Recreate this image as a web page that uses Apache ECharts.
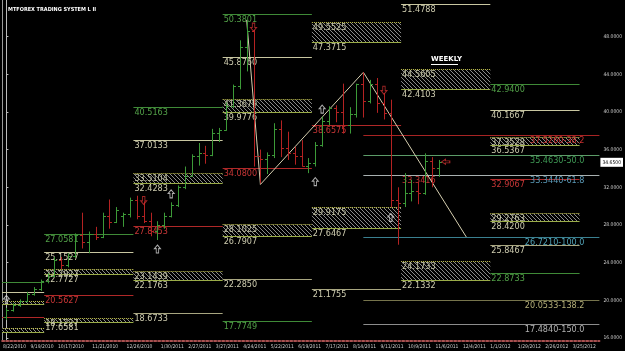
<!DOCTYPE html>
<html><head><meta charset="utf-8">
<script src="https://cdn.jsdelivr.net/npm/echarts@6/dist/echarts.min.js"></script>
<style>html,body{margin:0;padding:0;background:#000}#c{width:625px;height:351px}</style>
</head><body><div id="c"></div><script>
// ---------- DATA ----------
const firstWeek = '2010-08-22';
const dateLabels = ['8/22/2010','9/19/2010','10/17/2010','11/21/2010','12/26/2010','1/30/2011','2/27/2011','3/27/2011','4/24/2011','5/22/2011','6/19/2011','7/17/2011','8/14/2011','9/11/2011','10/9/2011','11/6/2011','12/4/2011','1/1/2012','1/29/2012','2/26/2012','3/25/2012'];
const priceTicks = [16,20,24,28,32,36,40,44,48];
const currentPrice = 34.65;

// weekly OHLC bars (week 0 = 8/22/2010)
const barOpen  = [18.2,19.0,19.5,19.9,20.7,21.2,22.0,22.6,24.3,23.8,24.7,26.9,26.2,27.0,26.7,28.9,28.3,29.0,29.2,30.7,28.9,28.4,27.4,28.0,29.0,30.1,32.0,33.2,35.3,35.6,35.4,37.8,38.1,40.6,42.8,46.9,48.6,35.3,35.0,35.4,38.2,36.2,35.6,35.3,34.3,34.6,36.5,39.0,40.4,40.0,38.6,39.8,43.0,41.2,43.0,40.9,39.9,30.6,30.3,31.4,31.6,31.4,34.8,34.0];
const barHigh  = [19.2,19.7,20.1,20.9,21.4,22.2,22.9,24.6,24.6,25.0,27.1,29.3,27.3,27.8,29.3,30.7,29.9,29.3,30.9,31.1,30.5,29.3,28.4,29.3,30.4,32.2,34.2,35.5,36.7,36.4,38.2,38.3,41.0,42.9,47.6,49.7,48.7,36.0,35.7,38.8,39.1,37.9,36.3,37.0,35.1,36.8,39.5,40.6,40.7,43.0,40.5,43.0,44.2,43.4,43.6,42.0,41.3,32.0,33.5,32.8,32.6,35.6,35.2,34.9];
const barLow   = [17.9,18.8,19.3,19.8,20.5,21.0,21.8,22.5,23.3,23.5,24.5,25.5,25.0,26.4,26.6,27.6,28.2,27.8,28.8,28.6,28.2,26.8,26.4,27.6,28.8,29.9,31.8,33.2,34.3,34.5,35.3,36.8,38.0,40.4,42.4,44.3,34.2,32.4,33.4,35.1,35.2,34.9,34.4,34.2,33.5,34.2,36.3,38.6,38.9,37.7,37.7,39.4,39.4,40.9,39.9,39.2,29.9,25.9,29.9,30.5,30.2,31.2,32.0,33.1];
const barClose = [19.0,19.5,19.9,20.7,21.2,22.0,22.6,24.3,23.8,24.7,26.9,26.2,27.0,26.7,28.9,28.3,29.6,29.2,30.7,28.9,28.4,27.4,28.0,29.0,30.1,32.0,33.2,35.3,35.6,35.4,37.8,38.1,40.6,42.8,46.9,48.6,35.3,35.0,35.4,38.2,36.2,35.6,35.3,34.3,34.6,36.5,39.0,40.4,40.0,38.6,39.8,43.0,41.2,43.0,40.9,39.9,30.6,30.3,31.4,31.6,31.4,34.8,34.0,34.65];

// quarterly pivot levels (columns = quarters)
const quarterStart = [-7, 6, 19, 32, 45, 58, 71];
const quarterEnd   = [6, 19, 32, 45, 58, 71, 84];
const levelR3   = [21.91, 27.0581, 40.5163, 50.3801, null, null, 42.9400];
const levelR2   = [20.92, 25.1527, 37.0133, 45.8760, null, 51.4788, 40.1667];
const zoneR1Top = [19.92, 23.2927, 33.5104, 41.3679, 49.5525, 44.5605, 37.3528];
const zoneR1Bot = [19.58, 22.7727, 32.4283, 39.9776, 47.3715, 42.4103, 36.5367];
const pivotP    = [18.26, 20.5627, 27.8453, 34.0800, 38.6575, 33.3416, 32.9067];
const zoneS1Top = [17.03, 18.1227, 23.1439, 28.1025, 29.9175, 24.1733, 29.2763];
const zoneS1Bot = [16.60, 17.6581, 22.1763, 26.7907, 27.6467, 22.1332, 28.4200];
const levelS2   = [null, null, 18.6733, 22.2850, 21.1755, null, 25.8467];
const levelS3   = [null, null, null, 17.7749, null, null, 22.8733];

// fibonacci retracement
const fibStartWeek = 52;
const fibRatios = ['38.2','50.0','61.8','100.0','138.2','150.0'];
const fibValues = [37.5260, 35.4630, 33.3440, 26.7210, 20.0533, 17.4840];

// trend / zigzag line [week, price]
const trendPoints = [[35, 49.75], [37, 32.3], [52, 44.205], [67, 26.721]];

// signal arrows [week, price]
const upSignals   = [[0, 20.1], [22, 25.45], [24, 31.3], [45, 32.6], [46, 40.3], [56, 28.8]];
const downSignals = [[20, 30.6], [36, 49.0], [55, 42.3]];
const priceMarker = [[64, 34.7]];

// ---------- RENDER ----------
const weekMs = 7 * 24 * 3600 * 1000;
const t0 = new Date(firstWeek + 'T00:00:00Z').getTime();
function weekOf(lbl){ const p = lbl.split('/'); return Math.round((Date.UTC(+p[2], +p[0]-1, +p[1]) - t0) / weekMs); }
const labelWeeks = dateLabels.map(weekOf);
const labelMap = {}; labelWeeks.forEach((w,i)=>labelMap[w]=dateLabels[i]);

const fmt = v => v.toFixed(4);
const narrow = '"Liberation Sans Narrow", "DejaVu Sans Condensed", sans-serif';
const labelFont = '9px ' + narrow;
const kindStyle = {
  R3:{line:'#3f8a37', text:'#52a048'},
  R2:{line:'#c8c6a0', text:'#cfcdb0'},
  P: {line:'#b02828', text:'#c83636'},
  S2:{line:'#a8a680', text:'#cfcdb0'},
  S3:{line:'#3f8a37', text:'#52a048'}
};
const lineItems = [];
function addLevels(arr, kind){ arr.forEach((v,i)=>{ if(v!=null) lineItems.push({s:quarterStart[i], e:quarterEnd[i], v:v, kind:kind}); }); }
addLevels(levelR3,'R3'); addLevels(levelR2,'R2'); addLevels(pivotP,'P'); addLevels(levelS2,'S2'); addLevels(levelS3,'S3');
const zoneItems = [];
zoneR1Top.forEach((v,i)=>zoneItems.push({s:quarterStart[i], e:quarterEnd[i], top:v, bot:zoneR1Bot[i]}));
zoneS1Top.forEach((v,i)=>zoneItems.push({s:quarterStart[i], e:quarterEnd[i], top:v, bot:zoneS1Bot[i]}));

const hatch = document.createElement('canvas'); hatch.width = 4; hatch.height = 4;
(function(){ const c = hatch.getContext('2d'); c.fillStyle='#000'; c.fillRect(0,0,4,4); c.fillStyle='#8a8a8a'; for(let k=0;k<4;k++) c.fillRect(k,k,1,1); })();

const fibStyle = [
  {line:'#a82424', text:'#c83030'},
  {line:'#5c9c68', text:'#3f9a55'},
  {line:'#a8b0b0', text:'#5a9ab8'},
  {line:'#3a8090', text:'#50a0b4'},
  {line:'#76744c', text:'#b4ae78'},
  {line:'#8c8c8c', text:'#b0b0b0'}
];

const chart = echarts.init(document.getElementById('c'), null, {renderer:'canvas'});
const option = {
  backgroundColor:'#000',
  animation:false,
  title:{text:'MTFOREX TRADING SYSTEM L II', left:3, top:2, textStyle:{color:'#fff', fontSize:5.5, fontWeight:'bold', fontFamily:narrow}},
  graphic:[
    {type:'text', left:431, top:56, style:{text:'WEEKLY', fill:'#fff', font:'bold 7px "DejaVu Sans"'}},
    {type:'line', shape:{x1:431, y1:64.5, x2:458, y2:64.5}, style:{stroke:'#fff', lineWidth:1}}
  ],
  grid:{left:0, right:22, top:0, bottom:10},
  xAxis:{type:'value', min:-0.62, max:86.39,
    axisLine:{show:true, lineStyle:{color:'#a85050', width:2, type:'dotted'}},
    axisTick:{show:false},
    splitLine:{show:false},
    axisLabel:{customValues:labelWeeks.map(w=>w-0.5), formatter:v=>labelMap[Math.round(v+0.5)]||'', align:'left', color:'#ccc', fontSize:5, margin:3, hideOverlap:false, showMinLabel:true, fontFamily:narrow}
  },
  yAxis:[
    {type:'value', position:'right', min:15.68, max:51.88,
      axisLine:{show:true, lineStyle:{color:'#bbb', width:1}},
      axisTick:{show:true, customValues:priceTicks, length:2, lineStyle:{color:'#bbb'}},
      splitLine:{show:false},
      axisLabel:{customValues:priceTicks, formatter:fmt, color:'#ccc', fontSize:5, margin:4, fontFamily:narrow}
    },
    {type:'value', position:'left', min:15.68, max:51.88,
      axisLine:{show:true, lineStyle:{color:'#999', width:1}}, axisTick:{show:false}, axisLabel:{show:false}, splitLine:{show:false}}
  ],
  series:[
    // hatched pivot zones
    {type:'custom', clip:true, silent:true, z:1,
      data: zoneItems.map(z=>[z.s-0.5, z.top]),
      encode:{x:0, y:1},
      renderItem:(params, api)=>{
        const z = zoneItems[params.dataIndex];
        const a = api.coord([z.s-0.5, z.top]);
        const b = api.coord([z.e-0.5, z.bot]);
        const yt = Math.round(a[1])+0.5, yb = Math.round(b[1])+0.5;
        return {type:'group', children:[
          {type:'rect', shape:{x:a[0], y:yt, width:b[0]-a[0], height:yb-yt}, style:{fill:{image:hatch, repeat:'repeat'}}},
          {type:'line', shape:{x1:a[0], y1:yt, x2:b[0], y2:yt}, style:{stroke:'#c8c850', lineWidth:1, lineDash:[1,1]}},
          {type:'line', shape:{x1:a[0], y1:yb, x2:b[0], y2:yb}, style:{stroke:'#9aac48', lineWidth:1}},
          {type:'text', x:a[0]+1, y:yt+1, style:{text:fmt(z.top), fill:'#c2c2a4', font:labelFont, align:'left', verticalAlign:'top'}},
          {type:'text', x:a[0]+1, y:yb+1, style:{text:fmt(z.bot), fill:'#cfcdb0', font:labelFont, align:'left', verticalAlign:'top'}}
        ]};
      }
    },
    // pivot lines
    {type:'custom', clip:true, silent:true, z:2,
      data: lineItems.map(l=>[l.s-0.5, l.v]),
      encode:{x:0, y:1},
      renderItem:(params, api)=>{
        const l = lineItems[params.dataIndex];
        const a = api.coord([l.s-0.5, l.v]);
        const b = api.coord([l.e-0.5, l.v]);
        const y = Math.round(a[1])+0.5;
        const st = kindStyle[l.kind];
        return {type:'group', children:[
          {type:'line', shape:{x1:a[0], y1:y, x2:b[0], y2:y}, style:{stroke:st.line, lineWidth:1}},
          {type:'text', x:a[0]+1, y:y+1, style:{text:fmt(l.v), fill:st.text, font:labelFont, align:'left', verticalAlign:'top'}}
        ]};
      }
    },
    // fibonacci levels
    {type:'custom', clip:true, silent:true, z:3,
      data: fibValues.map(v=>[fibStartWeek, v]),
      encode:{x:0, y:1},
      renderItem:(params, api)=>{
        const i = params.dataIndex;
        const cs = params.coordSys;
        const a = api.coord([fibStartWeek, fibValues[i]]);
        const y = Math.round(a[1])+0.5;
        const xr = cs.x + cs.width;
        return {type:'group', children:[
          {type:'line', shape:{x1:a[0], y1:y, x2:xr, y2:y}, style:{stroke:fibStyle[i].line, lineWidth:1}},
          {type:'text', x:xr-15, y:y+1, style:{text:fmt(fibValues[i])+'-'+fibRatios[i], fill:fibStyle[i].text, font:labelFont, align:'right', verticalAlign:'top'}}
        ]};
      }
    },
    // trend lines + current price label
    {type:'line', data:trendPoints, symbol:'none', z:4, silent:true,
      lineStyle:{color:'#d6cfb0', width:1},
      markLine:{silent:true, symbol:'none', data:[{yAxis:currentPrice}], lineStyle:{color:'rgba(0,0,0,0)', width:0},
        label:{show:true, position:'end', formatter:()=>fmt(currentPrice), backgroundColor:'#fff', color:'#000', fontSize:5, padding:[2,2], distance:1, fontFamily:narrow}}
    },
    // OHLC bars
    {type:'custom', clip:true, z:5,
      data: barOpen.map((o,i)=>[i, o, barHigh[i], barLow[i], barClose[i]]),
      encode:{x:0, y:[1,2,3,4]},
      renderItem:(params, api)=>{
        const i = params.dataIndex;
        const h = api.coord([i, barHigh[i]]), l = api.coord([i, barLow[i]]);
        const o = api.coord([i, barOpen[i]]), c = api.coord([i, barClose[i]]);
        const x = Math.round(h[0])+0.5;
        const col = barClose[i] >= barOpen[i] ? '#3c9a38' : '#b42222';
        const yo = Math.round(o[1])+0.5, yc = Math.round(c[1])+0.5;
        return {type:'group', children:[
          {type:'line', shape:{x1:x, y1:h[1], x2:x, y2:l[1]}, style:{stroke:col, lineWidth:1}},
          {type:'line', shape:{x1:x-2.5, y1:yo, x2:x, y2:yo}, style:{stroke:col, lineWidth:1}},
          {type:'line', shape:{x1:x, y1:yc, x2:x+2.5, y2:yc}, style:{stroke:col, lineWidth:1}}
        ]};
      }
    },
    // signal arrows
    {type:'scatter', data:upSignals, z:6, silent:true,
      symbol:'path://M5,0L10,5L7,5L7,11L3,11L3,5L0,5Z', symbolSize:[6,8],
      itemStyle:{color:'rgba(0,0,0,0)', borderColor:'#d8d8d8', borderWidth:1}},
    {type:'scatter', data:downSignals, z:6, silent:true,
      symbol:'path://M5,0L10,5L7,5L7,11L3,11L3,5L0,5Z', symbolSize:[6,8], symbolRotate:180,
      itemStyle:{color:'rgba(0,0,0,0)', borderColor:'#c83030', borderWidth:1}},
    {type:'scatter', data:priceMarker, z:6, silent:true,
      symbol:'path://M5,0L10,5L7,5L7,11L3,11L3,5L0,5Z', symbolSize:[5,8], symbolRotate:90,
      itemStyle:{color:'rgba(0,0,0,0)', borderColor:'#c83030', borderWidth:1}}
  ]
};
chart.setOption(option);
</script></body></html>
